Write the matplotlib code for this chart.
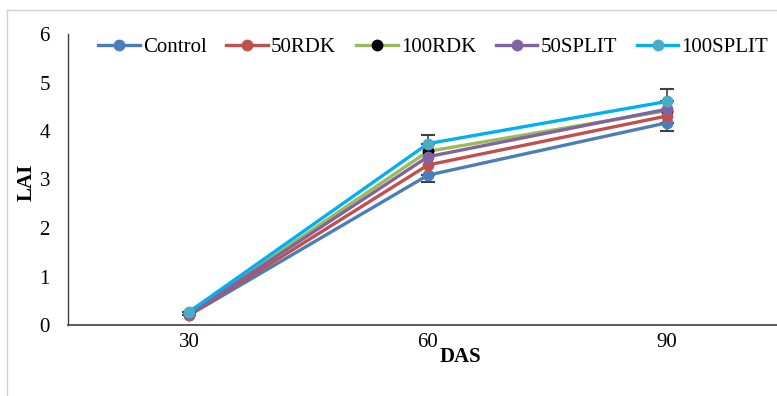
import matplotlib
matplotlib.use("Agg")
import matplotlib.pyplot as plt
from matplotlib.lines import Line2D

plt.rcParams['font.family'] = ['Liberation Serif', 'DejaVu Serif']

days = ["30", "60", "90"]
series = ["Control", "50RDK", "100RDK", "50SPLIT", "100SPLIT"]
control = [0.20, 3.09, 4.17]
rdk50 = [0.21, 3.30, 4.31]
rdk100 = [0.24, 3.58, 4.42]
split50 = [0.23, 3.47, 4.45]
split100 = [0.27, 3.74, 4.61]
err_low = [0.0, 0.15, 0.16]   # lower error (Control)
err_high = [0.0, 0.18, 0.25]  # upper error (100SPLIT)

line_colors = ["#4A7EBB", "#C0504D", "#9BBB59", "#8064A2", "#00B0F0"]
marker_colors = ["#4A7EBB", "#C0504D", "#000000", "#8064A2", "#4BACC6"]
zorders = [4, 5, 3, 6, 7]

fig = plt.figure(figsize=(7.77, 3.96), dpi=100)
W, H = 777, 396
ax = fig.add_axes([68 / W, (H - 325) / H, (777 - 68) / W, (325 - 34) / H])

xs = list(range(len(days)))
data = [control, rdk50, rdk100, split50, split100]
zero = [0.0] * len(days)
handles = []
for i, (name, vals) in enumerate(zip(series, data)):
    if name == "Control":
        yerr = [err_low, zero]
    elif name == "100SPLIT":
        yerr = [zero, err_high]
    else:
        yerr = None
    ax.errorbar(xs, vals, yerr=yerr, color=line_colors[i], lw=2.4,
                marker='o', ms=7.5, mfc=marker_colors[i], mec=marker_colors[i],
                ecolor='#404040', elinewidth=1.2, capsize=5, capthick=1.5,
                zorder=zorders[i])
    handles.append(Line2D([], [], color=line_colors[i], lw=2.4, marker='o', ms=7.5,
                          mfc=marker_colors[i], mec=marker_colors[i], label=name))

ax.set_xlim(-0.506, 2.46)
ax.set_ylim(0, 6)
ax.set_xticks(xs)
ax.set_xticklabels(days)
ax.set_yticks(range(0, 7))
ax.tick_params(axis='both', length=0, labelsize=15)
ax.tick_params(axis='y', pad=13)
ax.tick_params(axis='x', pad=6)
for s in ['top', 'right']:
    ax.spines[s].set_visible(False)
ax.spines['left'].set_color('#404040')
ax.spines['bottom'].set_color('#404040')
ax.spines['left'].set_linewidth(1.0)
ax.spines['bottom'].set_linewidth(1.2)

fig.text(460 / W, 1 - 357 / H, "DAS", fontsize=15, fontweight='bold', ha='center', va='center')
fig.text(27 / W, 1 - 182 / H, "LAI", fontsize=15, fontweight='bold', ha='center', va='center', rotation=90)

leg = fig.legend(handles=handles, loc='center left', bbox_to_anchor=(98 / W, 1 - 47 / H), ncol=5,
                 frameon=False, fontsize=15, handlelength=2.0, columnspacing=0.95,
                 handletextpad=0.15, borderaxespad=0, borderpad=0)

fig.add_artist(Line2D([7 / W, 7 / W], [0, 1 - 10 / H], color='#D0D0D0', lw=1, transform=fig.transFigure))
fig.add_artist(Line2D([7 / W, 1], [1 - 10 / H, 1 - 10 / H], color='#D0D0D0', lw=1, transform=fig.transFigure))

fig.savefig("out.png", dpi=100)
